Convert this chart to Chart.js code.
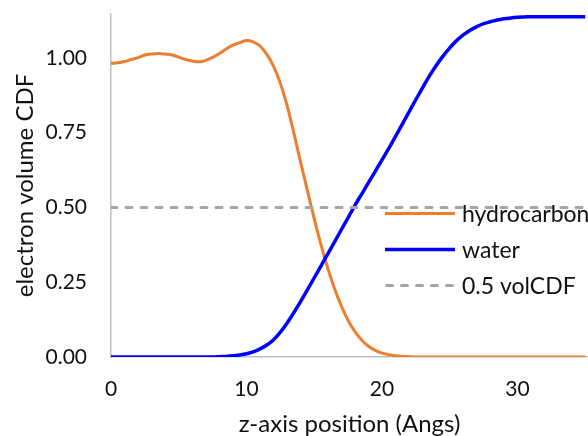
<!DOCTYPE html>
<html>
<head>
<meta charset="utf-8">
<script src="https://cdn.jsdelivr.net/npm/chart.js@4/dist/chart.umd.min.js"></script>
<style>
  html, body { margin: 0; padding: 0; background: #fff; overflow: hidden; }
</style>
</head>
<body>
<canvas id="cdf" width="588" height="436"></canvas>
<script>
// z positions (Angs), every 0.5
const zPos = [];
for (let i = 0; i <= 70; i++) zPos.push(i / 2);

const hydrocarbon = [
  0.982, 0.984, 0.988, 0.995, 1.001, 1.010, 1.013, 1.015, 1.013, 1.010,
  1.003, 0.995, 0.990, 0.987, 0.992, 1.002, 1.015, 1.030, 1.043, 1.051,
  1.058, 1.054, 1.040, 1.012, 0.972, 0.915, 0.840, 0.748, 0.650, 0.555,
  0.462, 0.375, 0.297, 0.228, 0.170, 0.122, 0.085, 0.057, 0.036, 0.022,
  0.013, 0.008, 0.004, 0.002, 0.001, 0, 0, 0, 0, 0,
  0, 0, 0, 0, 0, 0, 0, 0, 0, 0,
  0, 0, 0, 0, 0, 0, 0, 0, 0, 0,
  0
];

const water = [
  0, 0, 0, 0, 0, 0, 0, 0, 0, 0,
  0, 0, 0, 0, 0, 0, 0.001, 0.002, 0.004, 0.007,
  0.011, 0.017, 0.027, 0.040, 0.058, 0.083, 0.114, 0.149, 0.186, 0.225,
  0.265, 0.305, 0.345, 0.385, 0.426, 0.466, 0.507, 0.545, 0.583, 0.621,
  0.659, 0.698, 0.738, 0.779, 0.820, 0.861, 0.901, 0.940, 0.975, 1.006,
  1.034, 1.058, 1.077, 1.093, 1.105, 1.115, 1.121, 1.127, 1.131, 1.134,
  1.136, 1.137, 1.138, 1.138, 1.138, 1.138, 1.138, 1.138, 1.138, 1.138,
  1.138
];

const volCDF = 0.5;
const seriesLabels = ['hydrocarbon', 'water', '0.5 volCDF'];
const yTicks = [0, 0.25, 0.5, 0.75, 1.0];
const xTicks = [0, 10, 20, 30];

const FONT = 'Lato';
const xyPairs = (ys) => zPos.map((z, i) => ({ x: z, y: ys[i] }));

// legend drawn inside the plot, like the original
const innerLegend = {
  id: 'innerLegend',
  afterDraw(chart) {
    const ctx = chart.ctx;
    const area = chart.chartArea;
    const x0 = area.left + 274;
    const y0 = area.top + 199.5;
    ctx.save();
    chart.data.datasets.forEach((ds, i) => {
      const y = y0 + i * 36;
      ctx.beginPath();
      ctx.strokeStyle = ds.borderColor;
      ctx.lineWidth = ds.borderWidth;
      ctx.lineCap = ds.borderCapStyle || 'butt';
      ctx.setLineDash(ds.borderDash || []);
      ctx.moveTo(x0 + (ds.borderDash ? 1.5 : 0), y);
      ctx.lineTo(x0 + 70, y);
      ctx.stroke();
      ctx.setLineDash([]);
      ctx.fillStyle = '#111';
      ctx.font = '23px ' + FONT;
      ctx.textBaseline = 'middle';
      ctx.fillText(ds.label, x0 + 77, y + 1);
    });
    ctx.restore();
  }
};

new Chart(document.getElementById('cdf'), {
  type: 'line',
  data: {
    datasets: [
      {
        label: seriesLabels[0],
        data: xyPairs(hydrocarbon),
        borderColor: '#ED7D31',
        borderWidth: 3,
        order: 3
      },
      {
        label: seriesLabels[1],
        data: xyPairs(water),
        borderColor: '#0000FF',
        borderWidth: 3.5,
        order: 2
      },
      {
        label: seriesLabels[2],
        data: [{ x: zPos[0], y: volCDF }, { x: zPos[zPos.length - 1], y: volCDF }],
        borderColor: '#A5A5A5',
        borderWidth: 3,
        borderDash: [6, 9],
        borderCapStyle: 'round',
        order: 1
      }
    ]
  },
  options: {
    responsive: false,
    animation: false,
    layout: { padding: { top: 14, left: 0, right: 0, bottom: 0 } },
    elements: {
      point: { radius: 0 },
      line: { cubicInterpolationMode: 'monotone' }
    },
    plugins: {
      legend: { display: false },
      tooltip: { enabled: false }
    },
    scales: {
      x: {
        type: 'linear',
        min: 0,
        max: 35.2,
        grid: { display: false, drawTicks: false },
        border: { display: true, color: '#BFBFBF', width: 1.5 },
        afterBuildTicks: (s) => { s.ticks = xTicks.map(v => ({ value: v })); },
        afterFit: (s) => { s.height = 79; },
        ticks: {
          padding: 20,
          color: '#111',
          font: { family: FONT, size: 21 },
          maxRotation: 0
        },
        title: {
          display: true,
          text: 'z-axis position (Angs)',
          color: '#111',
          font: { family: FONT, size: 24, lineHeight: 1 },
          padding: { top: 0, bottom: 0 }
        }
      },
      y: {
        min: 0,
        max: 1.147,
        grid: { display: false, drawTicks: false },
        border: { display: true, color: '#BFBFBF', width: 1.5 },
        afterBuildTicks: (s) => { s.ticks = yTicks.map(v => ({ value: v })); },
        afterFit: (s) => { s.width = 111; s.paddingTop = 0; s.paddingBottom = 0; },
        ticks: {
          padding: 24,
          color: '#111',
          font: { family: FONT, size: 21 },
          callback: (v) => Number(v).toFixed(2)
        },
        title: {
          display: true,
          text: 'electron volume CDF',
          color: '#111',
          font: { family: FONT, size: 24, lineHeight: 1 },
          padding: { top: 13, bottom: 0 }
        }
      }
    }
  },
  plugins: [innerLegend]
});
</script>
</body>
</html>
